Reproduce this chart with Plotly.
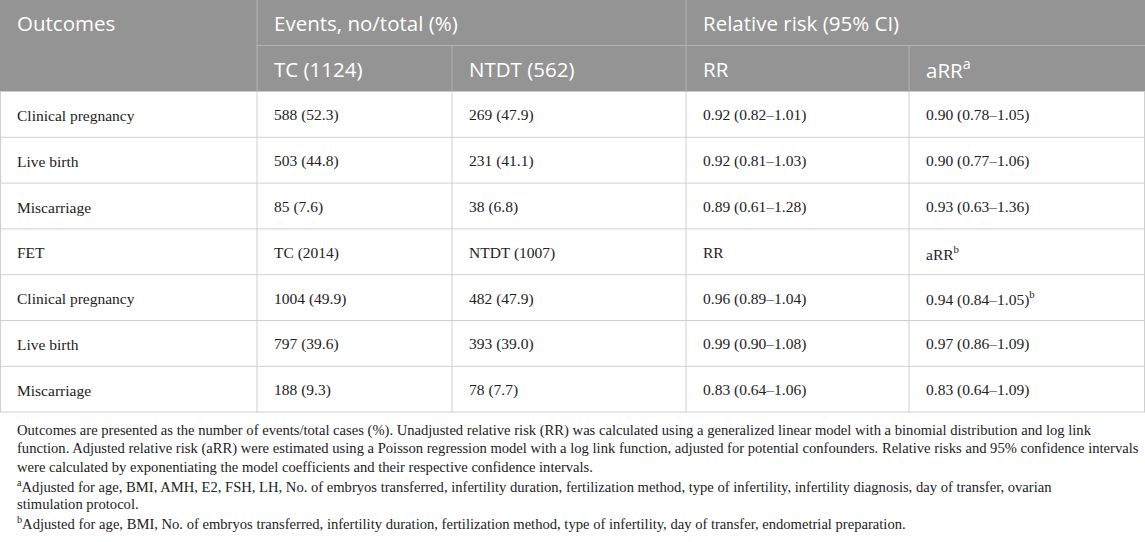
import plotly.graph_objects as go

# table content
outcomes = ["Clinical pregnancy", "Live birth", "Miscarriage", "FET",
            "Clinical pregnancy", "Live birth", "Miscarriage"]
tc_events = ["588 (52.3)", "503 (44.8)", "85 (7.6)", "TC (2014)",
             "1004 (49.9)", "797 (39.6)", "188 (9.3)"]
ntdt_events = ["269 (47.9)", "231 (41.1)", "38 (6.8)", "NTDT (1007)",
               "482 (47.9)", "393 (39.0)", "78 (7.7)"]
rr_values = ["0.92 (0.82–1.01)", "0.92 (0.81–1.03)", "0.89 (0.61–1.28)", "RR",
             "0.96 (0.89–1.04)", "0.99 (0.90–1.08)", "0.83 (0.64–1.06)"]
arr_values = ["0.90 (0.78–1.05)", "0.90 (0.77–1.06)", "0.93 (0.63–1.36)", "aRR<sup>b</sup>",
              "0.94 (0.84–1.05)<sup>b</sup>", "0.97 (0.86–1.09)", "0.83 (0.64–1.09)"]

header_top = ["Outcomes", "Events, no/total (%)", "Relative risk (95% CI)"]
header_sub = ["TC (1124)", "NTDT (562)", "RR", "aRR<sup>a</sup>"]

footnotes = [
    "Outcomes are presented as the number of events/total cases (%). Unadjusted relative risk (RR) was calculated using a generalized linear model with a binomial distribution and log link",
    "function. Adjusted relative risk (aRR) were estimated using a Poisson regression model with a log link function, adjusted for potential confounders. Relative risks and 95% confidence intervals",
    "were calculated by exponentiating the model coefficients and their respective confidence intervals.",
    "<sup>a</sup>Adjusted for age, BMI, AMH, E2, FSH, LH, No. of embryos transferred, infertility duration, fertilization method, type of infertility, infertility diagnosis, day of transfer, ovarian",
    "stimulation protocol.",
    "<sup>b</sup>Adjusted for age, BMI, No. of embryos transferred, infertility duration, fertilization method, type of infertility, day of transfer, endometrial preparation.",
]

# layout geometry (pixels)
W, H = 1145, 542
col_edges = [0, 257, 452, 686, 909, 1145]
head_mid, head_bot = 45.5, 91.5
row_h = 45.8
pad = 15
foot_y0, foot_dy = 430, 18.6

HEAD_BG = "#949494"
HEAD_LINE = "#b2b2b2"
GRID = "#cfcfcf"
serif = "Liberation Serif"
sans = "Open Sans"

fig = go.Figure()
fig.add_trace(go.Scatter(x=[0, W], y=[0, H], mode="markers",
                         marker=dict(opacity=0), hoverinfo="skip", showlegend=False))

shapes = []
annotations = []

# header background
shapes.append(dict(type="rect", x0=0, x1=W, y0=0, y1=head_bot, xref="x", yref="y",
                   fillcolor=HEAD_BG, line=dict(width=0), layer="below"))


def hline(x0, x1, y, color):
    shapes.append(dict(type="line", x0=x0, x1=x1, y0=y, y1=y, xref="x", yref="y",
                       line=dict(color=color, width=1)))


def vline(x, y0, y1, color):
    shapes.append(dict(type="line", x0=x, x1=x, y0=y0, y1=y1, xref="x", yref="y",
                       line=dict(color=color, width=1)))


# header lines
hline(col_edges[1], W, head_mid, HEAD_LINE)
vline(col_edges[1], 0, head_bot, HEAD_LINE)
vline(col_edges[3], 0, head_bot, HEAD_LINE)
vline(col_edges[2], head_mid, head_bot, HEAD_LINE)
vline(col_edges[4], head_mid, head_bot, HEAD_LINE)

# body grid
n_rows = len(outcomes)
table_bot = head_bot + n_rows * row_h
for i in range(1, n_rows + 1):
    hline(0, W, head_bot + i * row_h, GRID)
for x in col_edges:
    vline(min(max(x, 0.5), W - 0.5), head_bot, table_bot, GRID)


def cell_text(x, y, text, font):
    annotations.append(dict(x=x + pad, y=y, text=text, xref="x", yref="y",
                            xanchor="left", yanchor="middle", showarrow=False,
                            align="left", font=font))


head_font = dict(family=sans, size=20.5, color="white")
body_font = dict(family=serif, size=15.5, color="#222222")

# header text
for col, label in zip([col_edges[0], col_edges[1], col_edges[3]], header_top):
    cell_text(col, head_mid / 2, label, head_font)
for col, label in zip(col_edges[1:5], header_sub):
    cell_text(col, (head_mid + head_bot) / 2, label, head_font)

# body text
columns = [outcomes, tc_events, ntdt_events, rr_values, arr_values]
for c, values in enumerate(columns):
    for r, v in enumerate(values):
        cell_text(col_edges[c], head_bot + (r + 0.5) * row_h + 1, v, body_font)

# footnotes
foot_font = dict(family=serif, size=14.6, color="#222222")
for i, line in enumerate(footnotes):
    annotations.append(dict(x=pad, y=foot_y0 + i * foot_dy, text=line, xref="x", yref="y",
                            xanchor="left", yanchor="middle", showarrow=False,
                            align="left", font=foot_font))

fig.update_layout(
    width=W, height=H,
    margin=dict(l=0, r=0, t=0, b=0),
    paper_bgcolor="white", plot_bgcolor="white",
    xaxis=dict(range=[0, W], visible=False, fixedrange=True),
    yaxis=dict(range=[H, 0], visible=False, fixedrange=True),
    shapes=shapes,
    annotations=annotations,
    showlegend=False,
)

# drop the browser's default page margin so the figure sits at 0,0
fig.write_html("out.html", config={"displayModeBar": False},
               post_script="document.body.style.margin='0px';")
